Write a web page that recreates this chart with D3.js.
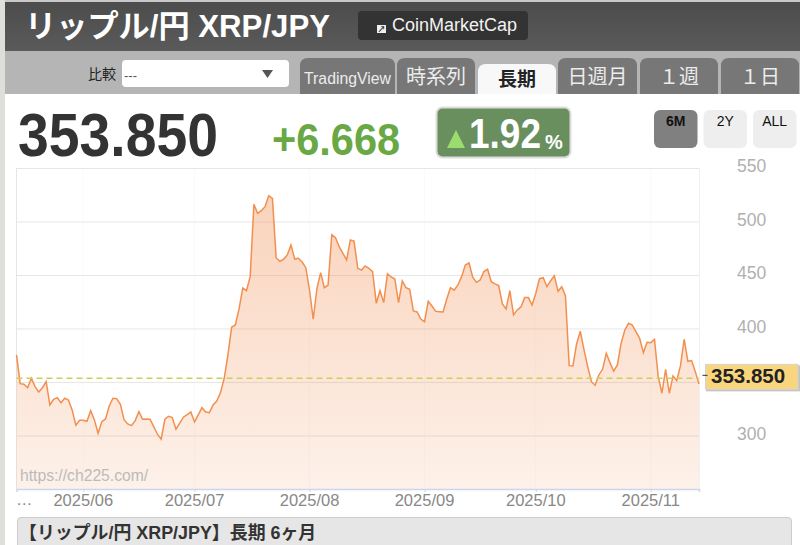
<!DOCTYPE html>
<html lang="ja"><head><meta charset="utf-8">
<script src="https://cdn.jsdelivr.net/npm/d3@7"></script>
<style>
html,body{margin:0;padding:0;background:#fff;overflow:hidden}
svg{display:block}
text{font-family:"Liberation Sans","Noto Sans CJK JP",sans-serif}
</style></head><body><div id="chart"></div>
<script>
const startDate = "2025-05-14";
const prices = [375.7,348.9,348.3,345.1,353.9,346.1,341.1,345.1,350.7,329,334.3,335.8,331.1,335.2,333.6,324.3,310,314.7,314.7,313.7,323.6,315,302.5,313.4,315.9,328,335.2,334.9,329.6,315.2,311.2,309.6,314.3,322.7,315.6,315.9,315.6,308.7,301.6,296.9,315.6,318.4,317.1,306.3,311.9,317.5,319.9,322.4,313.1,319.6,326.4,322.4,321.8,329,332.7,340.5,353.9,375.7,401.6,403.7,418.7,438.3,435.8,448.9,516.5,508.1,510.6,514.3,524.6,522.1,466.6,463.3,465.1,469.2,478.5,465.4,466.1,462.6,457.3,436.4,409.1,438,452.6,438.6,441.1,488.1,485.3,476.9,470.7,464.5,483.2,482.2,456.7,455.1,458.9,456.7,453.6,424,435.8,424.6,451.7,448.6,446.7,424.6,444.9,438.6,437.1,416.8,415.9,409.3,406.8,425.9,421.5,416.5,416.2,415.9,428,438.6,436.2,441.1,448.9,459.8,461.7,448.3,443.6,445.8,453.6,455.8,444.2,442.1,440.5,423.4,418.7,435.8,413.1,417.8,420.6,429.3,429.3,422.4,433.4,447,447.9,439.5,445.1,449.8,435.2,439.5,430.8,365.7,365.4,386,397.9,380.4,364.8,350.7,347.4,357,362.3,377.3,368.5,360.5,366.4,386.6,399.1,405.3,403.7,397.5,391.3,377.9,387.6,387.2,390.4,355.4,339.9,362.3,339.9,356.1,351.7,365.4,390.4,369.8,370.4,360.1,348.6];
const currentPrice = 353.85;
const yTicks = [300,350,400,450,500,550];
const yLabels = [300,400,450,500,550];
const monthTicks = ["2025-06-01","2025-07-01","2025-08-01","2025-09-01","2025-10-01","2025-11-01"];
const tabs = ["TradingView","時系列","長期","日週月","１週","１日"];
const rangeButtons = ["6M","2Y","ALL"];

const W=800,H=545;
const svg=d3.select("#chart").append("svg").attr("width",W).attr("height",H);
const defs=svg.append("defs");
const grad=defs.append("linearGradient").attr("id","areaFill").attr("gradientUnits","userSpaceOnUse")
  .attr("x1",0).attr("x2",0).attr("y1",168).attr("y2",489);
grad.append("stop").attr("offset",0).attr("stop-color","#f08a4b").attr("stop-opacity",.4);
grad.append("stop").attr("offset",1).attr("stop-color","#f08a4b").attr("stop-opacity",.12);
const hg=defs.append("linearGradient").attr("id","hdr").attr("x1",0).attr("x2",0).attr("y1",0).attr("y2",1);
hg.append("stop").attr("offset",0).attr("stop-color","#4c4c4c");
hg.append("stop").attr("offset",1).attr("stop-color","#5a5a5a");

// page chrome
svg.append("rect").attr("width",5).attr("height",H).attr("fill","#dfded9");
svg.append("rect").attr("x",5).attr("y",0).attr("width",W-5).attr("height",2).attr("fill","#c8c8c8");
svg.append("rect").attr("x",5).attr("y",2).attr("width",W-5).attr("height",49).attr("fill","url(#hdr)");
svg.append("rect").attr("x",5).attr("y",51).attr("width",W-5).attr("height",43).attr("fill","#b5b5b5");
svg.append("text").attr("x",25).attr("y",37).attr("font-size",31.2).attr("font-weight",700).attr("fill","#fff").text("リップル/円 XRP/JPY");
svg.append("rect").attr("x",358).attr("y",11).attr("width",170).attr("height",29).attr("rx",4).attr("fill","#333");
svg.append("rect").attr("x",377).attr("y",25).attr("width",9).attr("height",8).attr("fill","#f0f0f0");
svg.append("text").attr("x",381.5).attr("y",32).attr("text-anchor","middle").attr("font-size",8).attr("font-weight",700).attr("fill","#333").text("↗");
svg.append("text").attr("x",392).attr("y",31).attr("font-size",18).attr("fill","#f2f2f2").text("CoinMarketCap");

svg.append("text").attr("x",88).attr("y",79).attr("font-size",14).attr("fill","#222").text("比較");
svg.append("rect").attr("x",122).attr("y",60).attr("width",167).attr("height",27).attr("rx",4).attr("fill","#fff");
svg.append("text").attr("x",124).attr("y",80).attr("font-size",13).attr("fill","#555").text("---");
svg.append("path").attr("d","M262,70H273L267.5,78Z").attr("fill","#555");

const tabX=[300,397,478,558,640,721], tabW=[95,78,78,79,78,78];
tabs.forEach((t,i)=>{
  const active=t==="長期", x=tabX[i], w=tabW[i], top=active?64:58;
  svg.append("path").attr("d",`M${x},94V${top+8}Q${x},${top} ${x+8},${top}H${x+w-8}Q${x+w},${top} ${x+w},${top+8}V94Z`)
    .attr("fill",active?"#f8f8f8":"#777");
  svg.append("text").attr("x",x+w/2).attr("y",i===0?84:active?86:84).attr("text-anchor","middle")
    .attr("font-size",i===0?15.8:active?19:20).attr("font-weight",active?700:400)
    .attr("fill",active?"#222":"#ececec").text(t);
});

// headline numbers
svg.append("text").attr("transform","translate(18,156) scale(0.907,1)").attr("font-size",61).attr("font-weight",700).attr("fill","#333").text(currentPrice.toFixed(3));
svg.append("text").attr("transform","translate(272,155) scale(0.922,1)").attr("font-size",45).attr("font-weight",700).attr("fill","#69a845").text("+6.668");
svg.append("rect").attr("x",436.5).attr("y",107.5).attr("width",134).attr("height",50).attr("rx",6).attr("fill","#6a8f5f").attr("stroke","#dcdcdc").attr("stroke-width",2);
svg.append("path").attr("d","M447,148L456,130L465,148Z").attr("fill","#9bdc6e");
svg.append("text").attr("transform","translate(469,148) scale(0.86,1)").attr("font-size",43).attr("font-weight",700).attr("fill","#fff").text("1.92");
svg.append("text").attr("x",545).attr("y",149).attr("font-size",20).attr("font-weight",700).attr("fill","#fff").text("%");
rangeButtons.forEach((b,i)=>{
  const x=654+i*49.5;
  svg.append("rect").attr("x",x).attr("y",110).attr("width",43.5).attr("height",38).attr("rx",6).attr("fill",i===0?"#808080":"#eee");
  svg.append("text").attr("x",x+21.7).attr("y",126).attr("text-anchor","middle").attr("font-size",14).attr("font-weight",i===0?700:400).attr("fill","#111").text(b);
});

// chart
const parse=d3.utcParse("%Y-%m-%d"), t0=parse(startDate);
const series=prices.map((v,i)=>({date:d3.utcDay.offset(t0,i),v}));
const x=d3.scaleUtc().domain([t0,series[series.length-1].date]).range([16.5,699]);
const y=d3.scaleLinear().domain([250.4,550]).range([489,168.5]);

const months=monthTicks.map(parse);
svg.append("g").selectAll("line").data(months).join("line")
  .attr("x1",d=>x(d)).attr("x2",d=>x(d)).attr("y1",168).attr("y2",489).attr("stroke","#fafafa");
svg.append("line").attr("x1",16.5).attr("x2",16.5).attr("y1",168).attr("y2",489).attr("stroke","#e6e6e6");
svg.append("line").attr("x1",699.5).attr("x2",699.5).attr("y1",168).attr("y2",489).attr("stroke","#f0f0f0");
svg.append("g").selectAll("line").data(yTicks).join("line")
  .attr("x1",16.5).attr("x2",699).attr("y1",d=>y(d)).attr("y2",d=>y(d)).attr("stroke","#e6e6e6");

svg.append("path").datum(series).attr("fill","url(#areaFill)")
  .attr("d",d3.area().x(d=>x(d.date)).y0(489).y1(d=>y(d.v)));
svg.append("path").datum(series).attr("fill","none").attr("stroke","#f28f4f").attr("stroke-width",1.5)
  .attr("d",d3.line().x(d=>x(d.date)).y(d=>y(d.v)));
svg.append("line").attr("x1",16.5).attr("x2",699).attr("y1",y(currentPrice)).attr("y2",y(currentPrice))
  .attr("stroke","#cfcf55").attr("stroke-width",1.5).attr("stroke-dasharray","6,4");

const xAxis=svg.append("g").attr("transform","translate(0,489)")
  .call(d3.axisBottom(x).tickValues(months).tickSize(3).tickPadding(2).tickFormat(d3.utcFormat("%Y/%m")));
xAxis.select(".domain").attr("stroke","#ccd6eb").attr("stroke-width",1.5);
xAxis.selectAll("line").attr("stroke","#ccd6eb");
xAxis.selectAll("text").attr("font-size",16.5).attr("fill","#888").attr("dx",-0.5).style("font-family",'"Liberation Sans",sans-serif');
svg.append("text").attr("x",16).attr("y",505).attr("font-size",16.5).attr("fill","#888").text("…");

const yAxis=svg.append("g").attr("transform","translate(737,0)")
  .call(d3.axisRight(y).tickValues(yLabels).tickSize(0).tickPadding(0).tickFormat(d3.format("d")));
yAxis.select(".domain").remove();
yAxis.selectAll("text").attr("font-size",17.5).attr("fill","#b0b0b0").attr("dy","0.18em").style("font-family",'"Liberation Sans",sans-serif');

svg.append("text").attr("x",20).attr("y",481).attr("font-size",15.7).attr("fill","#bbb").text("https://ch225.com/");

// current price tag
const py=y(currentPrice);
svg.append("rect").attr("x",706).attr("y",py-13).attr("width",94).attr("height",26).attr("fill","#c4c4c4");
svg.append("rect").attr("x",705.5).attr("y",py-14).attr("width",92.5).attr("height",25).attr("fill","#f9d67e").attr("stroke","#d4d4d4");
svg.append("line").attr("x1",702.5).attr("x2",707.5).attr("y1",py-3).attr("y2",py-3).attr("stroke","#333");
svg.append("text").attr("x",711).attr("y",py+4.5).attr("font-size",20.5).attr("font-weight",700).attr("fill","#222").text(currentPrice.toFixed(3));

// bottom panel
svg.append("path").attr("d","M17.5,545V521Q17.5,517.5 21,517.5H788Q791.5,517.5 791.5,521V545").attr("fill","#e6e6e6").attr("stroke","#ccc");
svg.append("text").attr("x",19).attr("y",539).attr("font-size",17.9).attr("font-weight",700).attr("fill","#333").text("【リップル/円 XRP/JPY】長期 6ヶ月");
</script></body></html>
